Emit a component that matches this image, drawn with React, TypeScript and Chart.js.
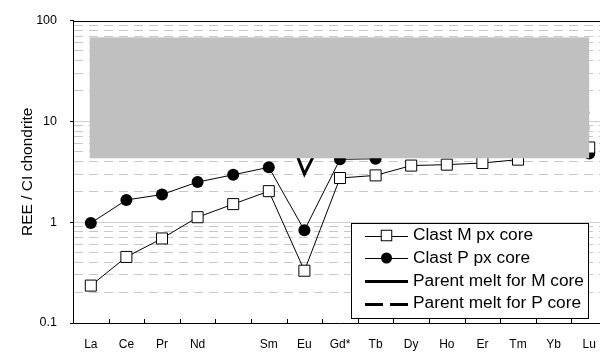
import React, { useEffect, useRef } from "react";
import { Chart, registerables } from "chart.js";

Chart.register(...registerables);

// ---------- data ----------
const categories = ["La", "Ce", "Pr", "Nd", "Pm", "Sm", "Eu", "Gd*", "Tb", "Dy", "Ho", "Er", "Tm", "Yb", "Lu"];
const axisLabels = ["La", "Ce", "Pr", "Nd", "", "Sm", "Eu", "Gd*", "Tb", "Dy", "Ho", "Er", "Tm", "Yb", "Lu"];

const clastM = [0.235, 0.452, 0.689, 1.12, 1.51, 2.03, 0.33, 2.74, 2.91, 3.64, 3.72, 3.86, 4.17, 6.0, 5.5];
const clastP = [0.98, 1.66, 1.88, 2.5, 2.95, 3.5, 0.83, 4.2, 4.25, 5.6, 5.9, 6.1, 4.65, 6.0, 4.8];
const meltM = [40, 35, 30, 27, 24, 24, 3.0, 15, 12, 11, 10, 9.5, 9, 9, 8.5];
const meltP = [55, 48, 42, 38, 34, 31, 9, 18, 17, 16, 15, 14, 13.5, 13, 12];

const seriesLabels = ["Clast M px core", "Clast P px core", "Parent melt for M core", "Parent melt for P core"];

const yDecades = [0.1, 1, 10, 100];
const yDecadeLabels = ["0.1", "1", "10", "100"];
const yMinorSteps = [2, 3, 4, 5, 6, 7, 8, 9];

// grey box covering the upper part of the plot (category index range, value range)
const boxX = [-0.03, 14.0];
const boxY = [4.3, 68];

const FONT = "'Liberation Sans', Arial, sans-serif";

function buildYTicks() {
  const out: { value: number; major: boolean }[] = [];
  yDecades.forEach((d, i) => {
    out.push({ value: d, major: true });
    if (i < yDecades.length - 1) {
      yMinorSteps.forEach((m) => out.push({ value: d * m, major: false }));
    }
  });
  return out;
}

const isDecade = (v: number) => yDecades.some((d) => Math.abs(d - v) < 1e-9);

const boxPlugin = {
  id: "greyBox",
  afterDatasetsDraw(chart: any) {
    const { ctx, scales } = chart;
    const x0 = scales.x.getPixelForValue(boxX[0]);
    const x1 = scales.x.getPixelForValue(boxX[1]);
    const y0 = scales.y.getPixelForValue(boxY[1]);
    const y1 = scales.y.getPixelForValue(boxY[0]);
    ctx.save();
    ctx.fillStyle = "#c0c0c0";
    ctx.fillRect(x0, y0, x1 - x0, y1 - y0);
    ctx.restore();
  },
};

const framePlugin = {
  id: "frame",
  afterDraw(chart: any) {
    const { ctx, chartArea, scales } = chart;
    ctx.save();
    ctx.strokeStyle = "#000";
    ctx.lineWidth = 1;
    // top border
    ctx.beginPath();
    ctx.moveTo(chartArea.left, Math.round(chartArea.top) + 0.5);
    ctx.lineTo(chartArea.right, Math.round(chartArea.top) + 0.5);
    ctx.stroke();
    // inner x tick marks between categories
    const b = Math.round(chartArea.bottom);
    for (let i = 1; i < categories.length; i++) {
      const x = Math.round((scales.x.getPixelForValue(i - 1) + scales.x.getPixelForValue(i)) / 2) + 0.5;
      ctx.beginPath();
      ctx.moveTo(x, b);
      ctx.lineTo(x, b - 4);
      ctx.stroke();
    }
    ctx.restore();
  },
};

const legendPlugin = {
  id: "boxLegend",
  afterDraw(chart: any) {
    const { ctx } = chart;
    const left = 351.5, top = 223.5, w = 237, h = 95;
    ctx.save();
    ctx.fillStyle = "#fff";
    ctx.fillRect(left, top, w, h);
    ctx.strokeStyle = "#000";
    ctx.lineWidth = 1;
    ctx.strokeRect(left, top, w, h);
    const rowY = [235.5, 258, 281, 303.5];
    const sx0 = 365, sx1 = 408, mx = 386.5;
    chart.data.datasets.forEach((ds: any, i: number) => {
      const y = rowY[i];
      ctx.save();
      ctx.strokeStyle = "#000";
      ctx.lineWidth = ds.borderWidth;
      ctx.setLineDash(ds.borderDash || []);
      ctx.beginPath();
      ctx.moveTo(sx0, Math.round(y) + (ds.borderWidth % 2 ? 0.5 : 0));
      ctx.lineTo(sx1, Math.round(y) + (ds.borderWidth % 2 ? 0.5 : 0));
      ctx.stroke();
      ctx.restore();
      if (ds.pointRadius > 0) {
        ctx.save();
        ctx.lineWidth = 1;
        ctx.strokeStyle = "#000";
        ctx.fillStyle = ds.pointBackgroundColor;
        if (ds.pointStyle === "rect") {
          const s = 10.5;
          ctx.fillRect(mx - s / 2, y - s / 2, s, s);
          ctx.strokeRect(mx - s / 2, y - s / 2, s, s);
        } else {
          ctx.beginPath();
          ctx.arc(mx, y, 5.5, 0, Math.PI * 2);
          ctx.fill();
        }
        ctx.restore();
      }
      ctx.save();
      ctx.fillStyle = "#000";
      ctx.font = `16px ${FONT}`;
      ctx.textBaseline = "middle";
      ctx.textAlign = "left";
      ctx.translate(413, y + 0.5);
      ctx.scale(1.08, 1);
      ctx.fillText(ds.label, 0, 0);
      ctx.restore();
    });
    ctx.restore();
  },
};

export default function App() {
  const ref = useRef<HTMLCanvasElement | null>(null);

  useEffect(() => {
    if (!ref.current) return;
    const chart = new Chart(ref.current, {
      type: "line",
      data: {
        labels: axisLabels,
        datasets: [
          {
            label: seriesLabels[0],
            data: clastM,
            borderColor: "#000",
            borderWidth: 1,
            pointStyle: "rect",
            pointRadius: 7.8,
            pointBackgroundColor: "#fff",
            pointBorderColor: "#000",
            pointBorderWidth: 1,
            fill: false,
            tension: 0,
          },
          {
            label: seriesLabels[1],
            data: clastP,
            borderColor: "#000",
            borderWidth: 1,
            pointStyle: "circle",
            pointRadius: 6,
            pointBackgroundColor: "#000",
            pointBorderColor: "#000",
            pointBorderWidth: 0,
            fill: false,
            tension: 0,
          },
          {
            label: seriesLabels[2],
            data: meltM,
            borderColor: "#000",
            borderWidth: 3,
            pointRadius: 0,
            fill: false,
            tension: 0,
          },
          {
            label: seriesLabels[3],
            data: meltP,
            borderColor: "#000",
            borderWidth: 3,
            borderDash: [18, 7],
            pointRadius: 0,
            fill: false,
            tension: 0,
          },
        ] as any,
      },
      options: {
        animation: false,
        responsive: false,
        maintainAspectRatio: false,
        layout: { padding: { top: 16, right: 33, left: 0, bottom: 0 } },
        plugins: {
          legend: { display: false },
          tooltip: { enabled: false },
          title: { display: false },
        },
        scales: {
          x: {
            type: "category",
            offset: true,
            grid: { display: false, drawTicks: false, tickLength: 0 },
            border: { display: true, color: "#000", width: 1 },
            ticks: {
              autoSkip: false,
              maxRotation: 0,
              padding: 14,
              color: "#000",
              font: { family: FONT, size: 12 },
            },
            afterFit: (s: any) => {
              s.height = 29;
            },
          },
          y: {
            type: "logarithmic",
            min: 0.1,
            max: 100,
            afterBuildTicks: (s: any) => {
              s.ticks = buildYTicks();
            },
            ticks: {
              autoSkip: false,
              padding: 13,
              color: "#000",
              font: { family: FONT, size: 12.5 },
              callback: (v: any) => {
                const i = yDecades.findIndex((d) => Math.abs(d - Number(v)) < 1e-9);
                return i >= 0 ? yDecadeLabels[i] : "";
              },
            },
            grid: {
              drawTicks: true,
              tickLength: 3,
              lineWidth: 1,
              color: (c: any) => {
                if (!c.tick) return "#c8c8c8";
                const v = c.tick.value;
                if (Math.abs(v - 0.1) < 1e-9 || Math.abs(v - 100) < 1e-9) return "rgba(0,0,0,0)";
                return isDecade(v) ? "#d0d0d0" : "#c8c8c8";
              },
              tickColor: (c: any) => (c.tick && isDecade(c.tick.value) ? "#000" : "rgba(0,0,0,0)"),
            },
            border: {
              display: true,
              color: "#000",
              width: 1,
              dash: (c: any) => (c.tick && !isDecade(c.tick.value) ? [9, 6] : []),
            },
            title: {
              display: true,
              text: "REE / CI chondrite",
              color: "#000",
              font: { family: FONT, size: 15.5 },
              padding: { top: 18, bottom: 0 },
            },
            afterFit: (s: any) => {
              s.width = 73;
            },
          },
        },
      } as any,
      plugins: [boxPlugin, framePlugin, legendPlugin],
    });
    return () => chart.destroy();
  }, []);

  return (
    <div style={{ position: "absolute", left: 0, top: 0, width: 600, height: 352, overflow: "hidden", background: "#fff" }}>
      <canvas ref={ref} width={640} height={352} style={{ display: "block", width: 640, height: 352 }} />
    </div>
  );
}
